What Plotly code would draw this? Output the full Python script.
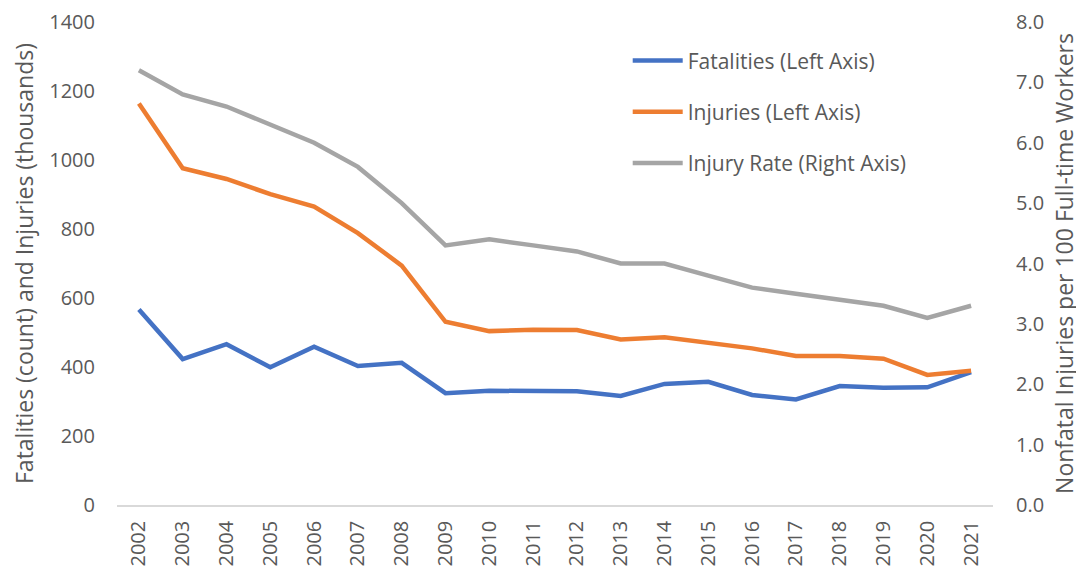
import plotly.graph_objects as go

YEARS = [str(y) for y in range(2002, 2022)]
FATALITIES = [567, 423, 466, 399, 459, 403, 412, 324, 331, 330, 330, 316, 351, 357, 319, 306, 345, 340, 341, 385]
INJURIES = [1164, 976, 945, 901, 865, 788, 694, 531, 504, 508, 507, 480, 486, 470, 454, 432, 432, 424, 377, 389]
INJURY_RATE = [7.2, 6.8, 6.6, 6.3, 6.0, 5.6, 5.0, 4.3, 4.4, 4.3, 4.2, 4.0, 4.0, 3.8, 3.6, 3.5, 3.4, 3.3, 3.1, 3.3]

BLUE = "#4472c4"
ORANGE = "#ed7d31"
GRAY = "#a5a5a5"
TEXT = "#595959"
FONT = "Open Sans"

fig = go.Figure()
fig.add_trace(go.Scatter(
    x=YEARS, y=FATALITIES, name="Fatalities (Left Axis)", mode="lines",
    line=dict(color=BLUE, width=4.5), legendgroup="a",
))
fig.add_trace(go.Scatter(
    x=YEARS, y=INJURIES, name="Injuries (Left Axis)", mode="lines",
    line=dict(color=ORANGE, width=4.5), legendgroup="b",
))
fig.add_trace(go.Scatter(
    x=YEARS, y=INJURY_RATE, name="Injury Rate (Right Axis)", mode="lines",
    line=dict(color=GRAY, width=4.5), legendgroup="c", yaxis="y2",
))

# the page body adds an 8px offset, so margins are shifted by 8px
fig.update_layout(
    width=1084, height=569,
    margin=dict(l=109, r=99, t=14, b=72),
    paper_bgcolor="white", plot_bgcolor="white",
    font=dict(family=FONT, size=20, color=TEXT),
    showlegend=True,
    legend=dict(
        x=0.583, y=0.962, xanchor="left", yanchor="top",
        traceorder="grouped", tracegroupgap=21,
        font=dict(size=21, color=TEXT), bgcolor="rgba(0,0,0,0)",
        itemwidth=50,
    ),
    xaxis=dict(
        type="category", range=[-0.5, 19.5], tickangle=-90,
        showline=True, linecolor="#d9d9d9", linewidth=1.5,
        showgrid=False, ticks="outside", ticklen=6, tickcolor="rgba(0,0,0,0)",
        tickfont=dict(size=20, color=TEXT), automargin=False,
    ),
    yaxis=dict(
        range=[0, 1400], dtick=200, showgrid=False, zeroline=False,
        tickfont=dict(size=20, color=TEXT), ticks="outside", ticklen=17, tickcolor="rgba(0,0,0,0)",
        title=dict(text="Fatalities (count) and Injuries (thousands)", font=dict(size=23, color=TEXT), standoff=10),
        automargin=False,
    ),
    yaxis2=dict(
        range=[0, 8], dtick=1, tickformat=".1f", overlaying="y", side="right",
        showgrid=False, zeroline=False,
        tickfont=dict(size=20, color=TEXT), ticks="outside", ticklen=18, tickcolor="rgba(0,0,0,0)",
        title=dict(text="Nonfatal Injuries per 100 Full-time Workers", font=dict(size=23, color=TEXT), standoff=13),
        automargin=False,
    ),
)

fig.write_html("out.html")
